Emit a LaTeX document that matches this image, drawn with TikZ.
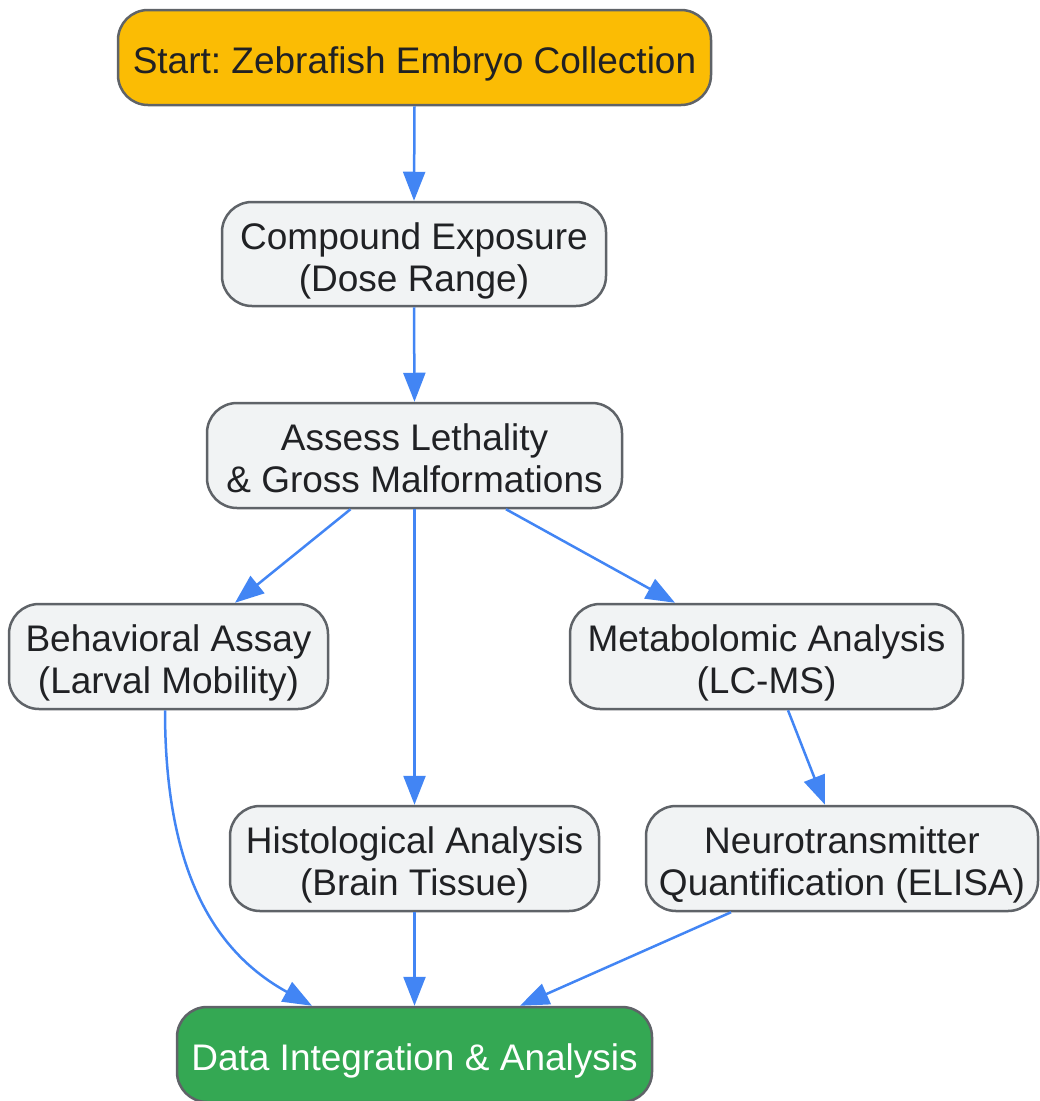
\documentclass[tikz,border=0pt]{standalone}
\usepackage{fontspec}
\setmainfont{Liberation Sans}
\usetikzlibrary{arrows.meta,calc}
\definecolor{startfill}{HTML}{FBBC04}
\definecolor{endfill}{HTML}{34A853}
\definecolor{boxfill}{HTML}{F1F3F4}
\definecolor{boxline}{HTML}{5F6368}
\definecolor{txt}{HTML}{202124}
\definecolor{edge}{HTML}{4285F4}
\frenchspacing
\newcommand\lowtext[1]{\raisebox{-8pt}[\height][\depth]{\begin{tabular}{@{}c@{}}#1\end{tabular}}}
\tikzset{
  box/.style={draw=boxline, line width=2.5pt, fill=boxfill, rounded corners=30pt,
    text=txt, inner sep=0pt,
    font=\fontsize{37}{42}\selectfont\frenchspacing},
  startbox/.style={box, fill=startfill},
  endbox/.style={box, fill=endfill, text=white},
  flow/.style={draw=edge, line width=2.5pt, -{Triangle[length=29pt,width=22pt]}}
}
\begin{document}
\begin{tikzpicture}[x=1pt,y=-1pt]
\useasboundingbox (0,0) rectangle (1040,1101);
\node[startbox, minimum width=593pt, minimum height=95pt] (start) at (414.5,57.5) {\lowtext{Start: Zebrafish Embryo Collection}};
\node[box, minimum width=384pt, minimum height=104pt] (comp) at (414,254) {\lowtext{Compound Exposure\\(Dose Range)}};
\node[box, minimum width=415pt, minimum height=105pt] (assess) at (414.5,455.5) {\lowtext{Assess Lethality\\\& Gross Malformations}};
\node[box, minimum width=319pt, minimum height=105pt] (behav) at (168.5,656.5) {\lowtext{Behavioral Assay\\(Larval Mobility)}};
\node[box, minimum width=393pt, minimum height=105pt] (metab) at (766.5,656.5) {\lowtext{Metabolomic Analysis\\(LC-MS)}};
\node[box, minimum width=369pt, minimum height=105pt] (histo) at (414.5,858.5) {\lowtext{Histological Analysis\\(Brain Tissue)}};
\node[box, minimum width=392pt, minimum height=105pt] (neuro) at (842,858.5) {\lowtext{Neurotransmitter\\Quantification (ELISA)}};
\node[endbox, minimum width=475pt, minimum height=95pt] (data) at (414.5,1054.5) {\lowtext{Data Integration \& Analysis}};

\draw[flow] (start.south) -- (comp.north);
\draw[flow] (comp.south) -- (assess.north);
\draw[flow] ($(assess.south)+(-64,0)$) -- ($(behav.north)+(66.5,0)$);
\draw[flow] (assess.south) -- (histo.north);
\draw[flow] ($(assess.south)+(91.5,0)$) -- ($(metab.north)+(-91.5,0)$);
\draw[flow] ($(metab.south)+(21.5,0)$) -- ($(neuro.north)+(-17,0)$);
\draw[flow] ($(behav.south)+(-3.5,0)$) .. controls (165,880) and (220,955) .. ($(data.north)+(-102.5,0)$);
\draw[flow] (histo.south) -- (data.north);
\draw[flow] ($(neuro.south)+(-111,0)$) -- ($(data.north)+(105.5,0)$);
\end{tikzpicture}
\end{document}
